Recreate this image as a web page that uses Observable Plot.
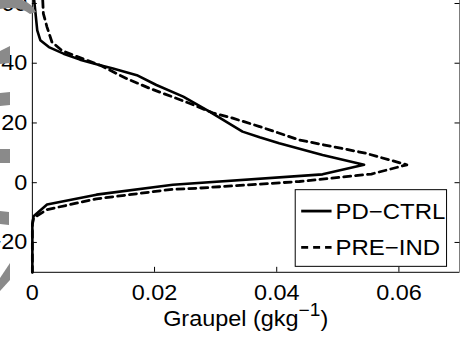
<!DOCTYPE html>
<html>
<head>
<meta charset="utf-8">
<script src="https://cdn.jsdelivr.net/npm/d3@7"></script>
<script src="https://cdn.jsdelivr.net/npm/@observablehq/plot@0.6"></script>
<style>
  html, body { margin: 0; padding: 0; background: #fff; overflow: hidden; width: 460px; height: 338px; }
  #chart { position: relative; width: 460px; height: 338px; overflow: hidden; }
  #chart svg { position: absolute; left: 0; top: 0; }
</style>
</head>
<body>
<div id="chart"></div>
<script>
// Vertical graupel profiles: level (y) against graupel mixing ratio (x, g/kg)
const seriesNames = ["PD\u2212CTRL", "PRE\u2212IND"];

const pdLevel    = [61, 57, 51, 47.7, 45.4, 43.2, 41.2, 39.3, 38.2, 36, 32.7, 28.8, 23.8, 17.1, 15.2, 13.2, 9.3, 6, 2.8, -0.7, -4, -7.3, -11.2, -14, -30];
const pdGraupel  = [0.0003, 0.0005, 0.0008, 0.0013, 0.0027, 0.0051, 0.0078, 0.0111, 0.0132, 0.0171, 0.0203, 0.0247, 0.029, 0.0344, 0.0372, 0.0404, 0.0475, 0.0543, 0.0475, 0.023, 0.0105, 0.0024, 0.0002, 0, 0];

const piLevel    = [61, 56.6, 52.1, 47.1, 44.3, 42.7, 39.3, 38.2, 36, 34.9, 31.6, 26.6, 23.4, 21.6, 18.8, 14.3, 9.9, 6, 2.9, 0.4, -1.8, -2.3, -5.4, -9, -11.8, -14, -30];
const piGraupel  = [0.0017, 0.0018, 0.0024, 0.0032, 0.0048, 0.0067, 0.0111, 0.0122, 0.0143, 0.0154, 0.0192, 0.0257, 0.0295, 0.0328, 0.0372, 0.0437, 0.0545, 0.0613, 0.0555, 0.0437, 0.0274, 0.0225, 0.0105, 0.0024, 0.0002, 0, 0];

const xTicks = [0, 0.02, 0.04, 0.06];
const xTickLabels = ["0", "0.02", "0.04", "0.06"];
const yTicks = [-20, 0, 20, 40, 60];

const seriesDash = [null, "7,5"];

const W = 462, H = 338;
const mL = 32, mR = 0.5, mT = 0, mB = 65;
const plotW = W - mL - mR, plotH = H - mT - mB;
const tickLen = 5;
const font = "'Liberation Sans', Arial, Helvetica, sans-serif";

const toRows = (name, lev, val) => lev.map((y, i) => ({series: name, level: y, graupel: val[i]}));
const pdRows = toRows(seriesNames[0], pdLevel, pdGraupel);
const piRows = toRows(seriesNames[1], piLevel, piGraupel);

const chart = Plot.plot({
  width: W,
  height: H,
  marginLeft: mL,
  marginRight: mR,
  marginTop: mT,
  marginBottom: mB,
  style: {fontFamily: font, fontSize: "22px", color: "#000", background: "transparent", overflow: "visible"},
  x: {domain: [0, 0.07], ticks: xTicks, tickSize: 0, tickPadding: 12, label: null,
      tickFormat: d => xTickLabels[xTicks.indexOf(d)]},
  y: {domain: [-30, 61], ticks: yTicks, tickSize: 0, tickPadding: 5, label: null},
  marks: [
    // inward ticks (bottom, left, right)
    Plot.tickX(xTicks, {x: d => d, insetTop: plotH - tickLen, stroke: "#000"}),
    Plot.tickY(yTicks, {y: d => d, insetRight: plotW - tickLen, stroke: "#000"}),
    Plot.tickY(yTicks, {y: d => d, insetLeft: plotW - tickLen, stroke: "#000"}),
    Plot.ruleX([0, 0.07], {stroke: "#000"}),
    Plot.ruleY([-30], {stroke: "#000"}),
    Plot.line(pdRows, {x: "graupel", y: "level", stroke: "#000", strokeWidth: 2.6}),
    Plot.line(piRows, {x: "graupel", y: "level", stroke: "#000", strokeWidth: 2.8, strokeDasharray: seriesDash[1]})
  ]
});

const host = document.getElementById("chart");
host.appendChild(chart);

const svg = d3.select(chart);

// x-axis title with superscript unit exponent
const xt = svg.append("text")
  .attr("x", (mL + W - mR) / 2)
  .attr("y", 327)
  .attr("text-anchor", "middle")
  .attr("font-family", font)
  .attr("font-size", 22)
  .attr("fill", "#000");
xt.append("tspan").text("Graupel (gkg");
xt.append("tspan").attr("font-size", 18).attr("dy", -10).text("\u22121");
xt.append("tspan").attr("dy", 10).text(")");

// legend box
const lg = svg.append("g")
  .attr("font-family", font)
  .attr("font-size", 22.5)
  .attr("text-anchor", "start");
lg.append("rect")
  .attr("x", 296.5).attr("y", 190.5).attr("width", 152).attr("height", 77)
  .attr("fill", "#fff").attr("stroke", "#000").attr("stroke-width", 1);
seriesNames.forEach((name, i) => {
  const cy = 212 + i * 36.5;
  lg.append("line")
    .attr("x1", 302.5).attr("x2", 333).attr("y1", cy).attr("y2", cy)
    .attr("stroke", "#000").attr("stroke-width", 2.8)
    .attr("stroke-dasharray", seriesDash[i]);
  lg.append("text")
    .attr("x", 337).attr("y", cy + 7.5)
    .attr("text-anchor", "start")
    .attr("fill", "#000")
    .text(name);
});

// slightly wide lettering throughout
chart.querySelectorAll("text").forEach(t => {
  const len = t.getComputedTextLength();
  if (len > 0) {
    t.setAttribute("textLength", (len * 1.07).toFixed(2));
    t.setAttribute("lengthAdjust", "spacingAndGlyphs");
  }
});

// decorative grey dashed ring segments along the left edge
const deco = d3.select(host).append("svg")
  .attr("width", 460).attr("height", 338)
  .style("pointer-events", "none");
const grey = "#8a8a8a";
const segs = [
  "M0,-2 L14,-2 Q30,0 36,12 L30,14 Q22,7 8,8 L0,9 Z",
  "M0,51 L10,46 L10,63 L0,64 Z",
  "M0,93 L10,92 L10,105 L0,106 Z",
  "M0,149 L10,149 L10,163 L0,163 Z",
  "M0,211 L9,212 L9,225 L0,224 Z",
  "M0,278 L10,263 L10,280 L0,291 Z"
];
segs.forEach(d => deco.append("path").attr("d", d).attr("fill", grey));
</script>
</body>
</html>
